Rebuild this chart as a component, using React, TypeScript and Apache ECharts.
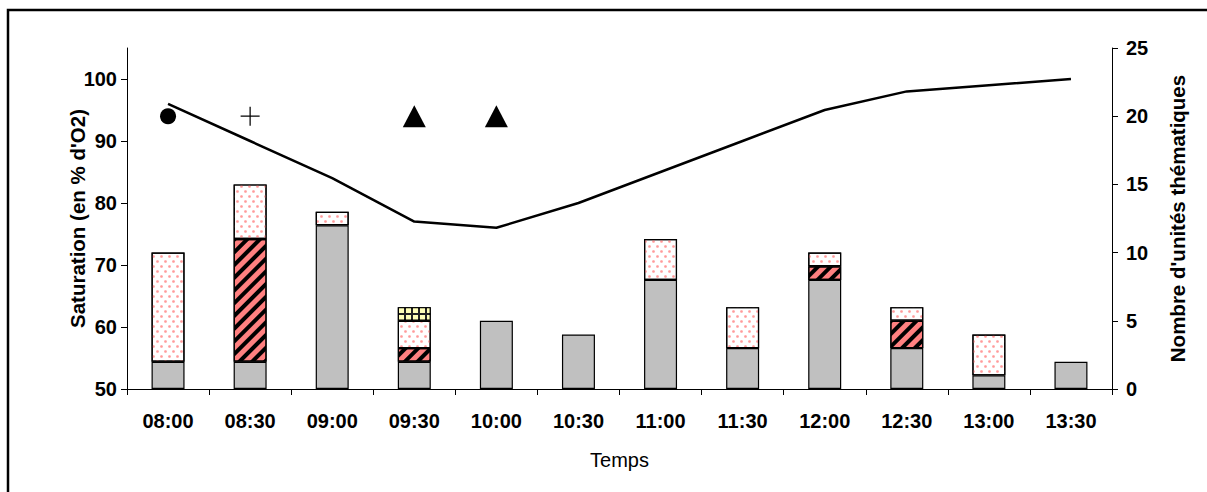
import React, { useEffect, useRef } from "react";
import * as echarts from "echarts";

const categories = ["08:00", "08:30", "09:00", "09:30", "10:00", "10:30", "11:00", "11:30", "12:00", "12:30", "13:00", "13:30"];
const saturation = [96, 90, 84, 77, 76, 80, 85, 90, 95, 98, 99, 100];
const grayUnits = [2, 2, 12, 2, 5, 4, 8, 3, 8, 3, 1, 2];
const hatchedUnits = [null, 9, null, 1, null, null, null, null, 1, 2, null, null];
const dottedUnits = [8, 4, 1, 2, null, null, 3, 3, 1, 1, 3, null];
const gridUnits = [null, null, null, 1, null, null, null, null, null, null, null, null];
const circleMarks = [20, null, null, null, null, null, null, null, null, null, null, null];
const plusMarks = [null, 20, null, null, null, null, null, null, null, null, null, null];
const triangleMarks = [null, null, null, 20, 20, null, null, null, null, null, null, null];
const leftTicks = [50, 60, 70, 80, 90, 100];

const FONT = "'Liberation Sans', Arial, sans-serif";

export default function App() {
  const ref = useRef<HTMLDivElement>(null);
  useEffect(() => {
    document.body.style.margin = "0";
    if (!ref.current) return;
    const chart = echarts.init(ref.current, null, { renderer: "svg" });
    const barBase = {
      type: "bar",
      stack: "units",
      yAxisIndex: 1,
      barWidth: 33,
      z: 2,
    };
    const option: any = {
      animation: false,
      backgroundColor: "#fff",
      textStyle: { fontFamily: FONT },
      grid: { left: 127, right: 95, top: 48, bottom: 103 },
      graphic: [
        {
          type: "rect",
          shape: { x: 8, y: 10, width: 1400, height: 700 },
          style: { fill: "none", stroke: "#000", lineWidth: 2.5 },
          z: 100,
          silent: true,
        },
      ],
      xAxis: {
        type: "category",
        data: categories,
        boundaryGap: true,
        axisLine: { lineStyle: { color: "#000", width: 1 } },
        axisTick: { show: true, length: 6, lineStyle: { color: "#000" } },
        axisLabel: { color: "#000", fontWeight: "bold", fontSize: 20, margin: 22, fontFamily: FONT },
        name: "Temps",
        nameLocation: "middle",
        nameMoveOverlap: false,
        nameGap: 61,
        nameTextStyle: { color: "#000", fontSize: 20, fontFamily: FONT, verticalAlign: "top" },
        splitLine: { show: false },
      },
      yAxis: [
        {
          type: "value",
          min: 50,
          max: 105,
          interval: 10,
          position: "left",
          axisLine: { show: true, lineStyle: { color: "#000", width: 1 } },
          axisTick: { show: true, length: 6, customValues: leftTicks, lineStyle: { color: "#000" } },
          axisLabel: { color: "#000", fontWeight: "bold", fontSize: 20, margin: 10, customValues: leftTicks, fontFamily: FONT },
          splitLine: { show: false },
          name: "Saturation (en % d'O2)",
          nameLocation: "middle",
          nameMoveOverlap: false,
          nameRotate: 90,
          nameGap: 39,
          nameTextStyle: { color: "#000", fontWeight: "bold", fontSize: 20.5, fontFamily: FONT },
        },
        {
          type: "value",
          min: 0,
          max: 25,
          interval: 5,
          position: "right",
          axisLine: { show: true, lineStyle: { color: "#000", width: 1 } },
          axisTick: { show: true, length: 6, lineStyle: { color: "#000" } },
          axisLabel: { color: "#000", fontWeight: "bold", fontSize: 20, margin: 14, fontFamily: FONT },
          splitLine: { show: false },
          name: "Nombre d'unités thématiques",
          nameLocation: "middle",
          nameMoveOverlap: false,
          nameRotate: 90,
          nameGap: 55,
          nameTextStyle: { color: "#000", fontWeight: "bold", fontSize: 20.5, fontFamily: FONT },
        },
      ],
      series: [
        {
          ...barBase,
          name: "gris",
          data: grayUnits,
          itemStyle: { color: "#C0C0C0", borderColor: "#000", borderWidth: 1.2 },
        },
        {
          ...barBase,
          name: "hachuré",
          data: hatchedUnits,
          itemStyle: {
            color: "#FF8080",
            borderColor: "#000",
            borderWidth: 1.2,
            decal: {
              symbol: "rect",
              symbolSize: 1,
              color: "#000",
              dashArrayX: [1, 0],
              dashArrayY: [3.5, 5],
              rotation: -Math.PI / 4,
            },
          },
        },
        {
          ...barBase,
          name: "pointillé",
          data: dottedUnits,
          itemStyle: {
            color: "#FFFFFF",
            borderColor: "#000",
            borderWidth: 1.2,
            decal: {
              symbol: "circle",
              symbolSize: 0.9,
              color: "#FF9A9A",
              dashArrayX: [[2.5, 4.5], [0, 3.5, 2.5, 1]],
              dashArrayY: [2.5, 1.2],
              rotation: 0,
            },
          },
        },
        {
          ...barBase,
          name: "quadrillé",
          data: gridUnits,
          itemStyle: {
            color: "#222",
            borderColor: "#000",
            borderWidth: 1.2,
            decal: {
              symbol: "rect",
              symbolSize: 1,
              color: "#FFFFB8",
              dashArrayX: [4.5, 1.5],
              dashArrayY: [4.5, 1.5],
              rotation: 0,
            },
          },
        },
        {
          type: "line",
          name: "Saturation",
          yAxisIndex: 0,
          data: saturation,
          symbol: "none",
          lineStyle: { color: "#000", width: 2.5 },
          z: 5,
        },
        {
          type: "scatter",
          yAxisIndex: 1,
          data: circleMarks,
          symbol: "circle",
          symbolSize: 16,
          itemStyle: { color: "#000", opacity: 1 },
          z: 6,
        },
        {
          type: "scatter",
          yAxisIndex: 1,
          data: plusMarks,
          symbol: "path://M0,9.35 L20,9.35 L20,10.65 L0,10.65 Z M9.35,0 L10.65,0 L10.65,20 L9.35,20 Z",
          symbolSize: 19,
          itemStyle: { color: "#000", opacity: 1 },
          z: 6,
        },
        {
          type: "scatter",
          yAxisIndex: 1,
          data: triangleMarks,
          symbol: "triangle",
          symbolSize: [23, 22],
          itemStyle: { color: "#000", opacity: 1 },
          z: 6,
        },
      ],
    };
    chart.setOption(option);
    return () => chart.dispose();
  }, []);
  return <div ref={ref} style={{ width: 1207, height: 492 }} />;
}
